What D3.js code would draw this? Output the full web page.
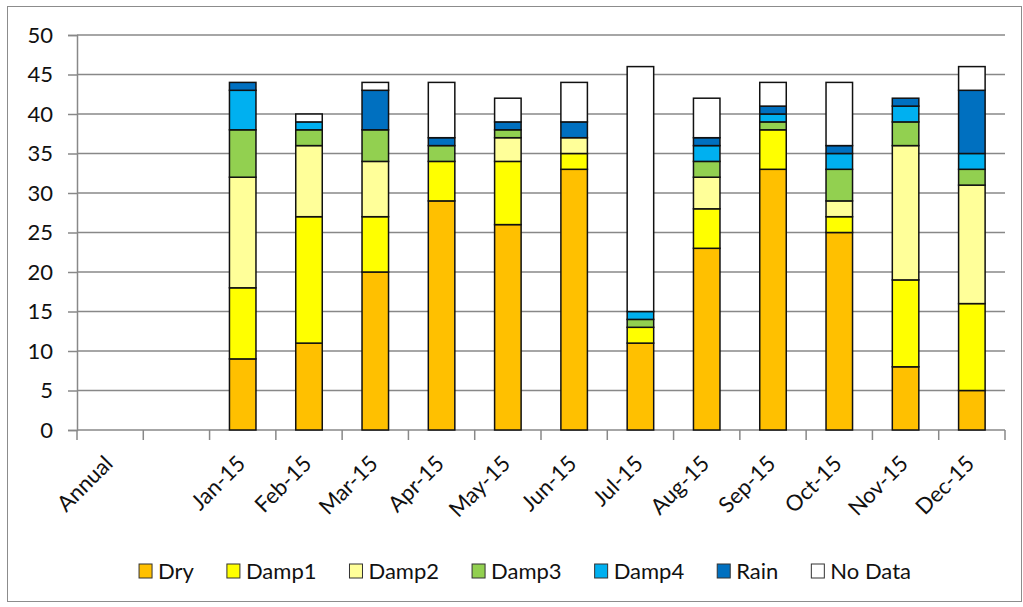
<!DOCTYPE html>
<html>
<head>
<meta charset="utf-8">
<script src="https://cdn.jsdelivr.net/npm/d3@7"></script>
<style>
  html, body { margin: 0; padding: 0; background: #fff; }
  svg { display: block; font-family: Lato, "Noto Sans", sans-serif; }
</style>
</head>
<body>
<svg id="chart" width="1023" height="607"></svg>
<script>
// Monthly day counts by surface condition
const categories = ["Annual", "", "Jan-15", "Feb-15", "Mar-15", "Apr-15", "May-15", "Jun-15",
                    "Jul-15", "Aug-15", "Sep-15", "Oct-15", "Nov-15", "Dec-15"];
const dry    = [0, 0,  9, 11, 20, 29, 26, 33, 11, 23, 33, 25,  8,  5];
const damp1  = [0, 0,  9, 16,  7,  5,  8,  2,  2,  5,  5,  2, 11, 11];
const damp2  = [0, 0, 14,  9,  7,  0,  3,  2,  0,  4,  0,  2, 17, 15];
const damp3  = [0, 0,  6,  2,  4,  2,  1,  0,  1,  2,  1,  4,  3,  2];
const damp4  = [0, 0,  5,  1,  0,  0,  0,  0,  1,  2,  1,  2,  2,  2];
const rain   = [0, 0,  1,  0,  5,  1,  1,  2,  0,  1,  1,  1,  1,  8];
const noData = [0, 0,  0,  1,  1,  7,  3,  5, 31,  5,  3,  8,  0,  3];
const seriesNames = ["Dry", "Damp1", "Damp2", "Damp3", "Damp4", "Rain", "No Data"];
const yTicks = [0, 5, 10, 15, 20, 25, 30, 35, 40, 45, 50];

const seriesValues = [dry, damp1, damp2, damp3, damp4, rain, noData];
const colors = ["#FFC000", "#FFFF00", "#FFFF99", "#92D050", "#00B0F0", "#0070C0", "#FFFFFF"];

const rows = categories.map((c, i) => {
  const r = { category: c };
  seriesNames.forEach((s, k) => { r[s] = seriesValues[k][i]; });
  return r;
});
const stacked = d3.stack().keys(seriesNames)(rows);

const svg = d3.select("#chart");
const plot = { left: 77, right: 1005, top: 35, bottom: 430 };

// chart area frame
svg.append("rect")
  .attr("x", 7.5).attr("y", 6.5)
  .attr("width", 1014).attr("height", 595)
  .attr("fill", "#fff").attr("stroke", "#8c8c8c").attr("stroke-width", 1);

const x = d3.scaleBand().domain(categories).range([plot.left, plot.right]).padding(0);
const y = d3.scaleLinear().domain([0, 50]).range([plot.bottom, plot.top]);

// horizontal gridlines + y axis
const yAxis = d3.axisLeft(y).tickValues(yTicks).tickSize(9).tickPadding(15);
const gy = svg.append("g").attr("transform", `translate(${plot.left},0)`).call(yAxis);
gy.select(".domain").attr("stroke", "#888").attr("stroke-width", 1.5);
gy.selectAll(".tick line").attr("stroke", "#888").attr("stroke-width", 1.5);
gy.selectAll(".tick text").attr("font-size", 22).attr("fill", "#111")
  .attr("font-family", "Lato, sans-serif");

svg.append("g").selectAll("line")
  .data(yTicks.filter(t => t > 0))
  .join("line")
  .attr("x1", plot.left).attr("x2", plot.right)
  .attr("y1", d => y(d)).attr("y2", d => y(d))
  .attr("stroke", "#888").attr("stroke-width", 1.5);

// x axis: ticks sit on the category boundaries
const bounds = categories.map(c => x(c)).concat([plot.right]);
const gx = svg.append("g");
gx.append("line")
  .attr("x1", plot.left).attr("x2", plot.right)
  .attr("y1", y(0)).attr("y2", y(0))
  .attr("stroke", "#888").attr("stroke-width", 1.5);
gx.selectAll("line.tk").data(bounds).join("line").attr("class", "tk")
  .attr("x1", d => d).attr("x2", d => d)
  .attr("y1", y(0)).attr("y2", y(0) + 10)
  .attr("stroke", "#888").attr("stroke-width", 1.5);
gx.selectAll("text").data(categories.filter(c => c !== "")).join("text")
  .attr("transform", d => `translate(${x(d) + x.bandwidth() / 2 + 4},${y(0) + 35}) rotate(-45)`)
  .attr("text-anchor", "end")
  .attr("font-size", 22).attr("fill", "#111")
  .text(d => d);

// stacked columns
const barW = x.bandwidth() / 2.5;
svg.append("g").selectAll("g")
  .data(stacked)
  .join("g")
  .attr("fill", (d, i) => colors[i])
  .selectAll("rect")
  .data(d => d.filter(p => p[1] - p[0] > 0))
  .join("rect")
  .attr("x", d => x(d.data.category) + (x.bandwidth() - barW) / 2)
  .attr("y", d => y(d[1]))
  .attr("width", barW)
  .attr("height", d => y(d[0]) - y(d[1]))
  .attr("stroke", "#111").attr("stroke-width", 1.5);

// legend
const legend = svg.append("g");
let cursor = 0;
const gap = 33;
seriesNames.forEach((name, i) => {
  const g = legend.append("g");
  g.append("rect").attr("x", 0).attr("y", -7).attr("width", 13).attr("height", 14)
    .attr("fill", colors[i]).attr("stroke", "#333").attr("stroke-width", 1);
  const t = g.append("text").attr("x", 19).attr("y", 0).attr("dy", "0.35em")
    .attr("font-size", 22).attr("fill", "#111").text(name);
  const w = 19 + t.node().getComputedTextLength();
  g.attr("transform", `translate(${cursor},0)`);
  cursor += w + gap;
});
const legendWidth = cursor - gap;
legend.attr("transform", `translate(${525 - legendWidth / 2},571)`);
</script>
</body>
</html>
